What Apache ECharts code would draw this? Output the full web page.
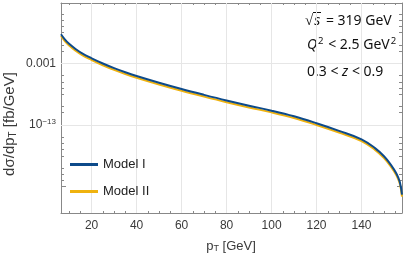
<!DOCTYPE html>
<html><head><meta charset="utf-8">
<script src="https://cdn.jsdelivr.net/npm/echarts@6/dist/echarts.min.js"></script>
<style>html,body{margin:0;padding:0;background:#fff}#c{width:407px;height:258px}</style>
</head><body><div id="c"></div>
<script>
// transverse momentum pT [GeV]
const pT = [6.4, 8, 10, 13, 16, 20, 25, 30, 35, 40, 50, 60, 70, 80, 90, 100, 110, 120, 130, 140, 146, 150, 153, 155.5, 157, 158];
// log10 of dσ/dpT [fb/GeV]
const modelI_log10 = [1.70, 0.92, 0.15, -0.72, -1.45, -2.19, -3.04, -3.79, -4.46, -5.06, -6.15, -7.17, -8.12, -9.03, -9.88, -10.68, -11.60, -12.72, -13.95, -15.32, -16.75, -18.07, -19.42, -20.87, -22.22, -24.30];
const modelII_log10 = [1.42, 0.64, -0.13, -1.00, -1.73, -2.47, -3.32, -4.07, -4.74, -5.34, -6.43, -7.45, -8.40, -9.31, -10.16, -10.96, -11.88, -13.00, -14.23, -15.60, -17.03, -18.35, -19.70, -21.15, -22.50, -24.60];
const seriesNames = ['Model I', 'Model II'];
// axes
const xMajorTicks = [20, 40, 60, 80, 100, 120, 140];
const xMinorTicks = [10, 15, 25, 30, 35, 45, 50, 55, 65, 70, 75, 85, 90, 95, 105, 110, 115, 125, 130, 135, 145, 150, 155];
const yLabelExp = [-3, -13];
const yLabelText = ['0.001', '10^−13'];
const yMajorTicks = [-3, -13, -23];
const yMinorTicks = [5, 4, 3, 2, 0, -1, -5, -6, -7, -8, -10, -11, -15, -16, -17, -18, -20, -21, -22];

const X_MIN = 6.4, X_MAX = 158.0, Y_MIN = -27.27, Y_MAX = 6.77;
const frameColor = '#888', labelColor = '#3a3a3a', gridColor = '#e6e6e6';
const F = 'Liberation Sans, Arial, sans-serif';
const NS = 'Noto Sans';

function toRich(t) {
  const i = t.indexOf('^');
  if (i < 0) return t;
  return '{b|' + t.slice(0, i) + '}{s|' + t.slice(i + 1) + '}';
}
function xAx(pos, ticks, len, label) {
  return { type: 'value', position: pos, min: X_MIN, max: X_MAX, gridIndex: 0,
    axisLine: { show: label, onZero: false, lineStyle: { color: frameColor, width: 1 } },
    axisTick: { show: true, inside: true, length: len, customValues: ticks, lineStyle: { color: frameColor } },
    axisLabel: { show: label && pos === 'bottom', customValues: xMajorTicks, color: labelColor, fontSize: 12, fontFamily: F, margin: 7 },
    splitLine: { show: false } };
}
function yAx(pos, ticks, len, label) {
  return { type: 'value', position: pos, min: Y_MIN, max: Y_MAX, gridIndex: 0,
    axisLine: { show: label, onZero: false, lineStyle: { color: frameColor, width: 1 } },
    axisTick: { show: true, inside: true, length: len, customValues: ticks, lineStyle: { color: frameColor } },
    axisLabel: { show: label && pos === 'left', customValues: yLabelExp, color: labelColor, fontSize: 12, fontFamily: F, margin: 5,
      formatter: v => toRich(yLabelText[yLabelExp.indexOf(v)] || ''),
      rich: { b: { fontSize: 12, fontFamily: F, color: labelColor }, s: { fontSize: 8, fontFamily: F, color: labelColor, verticalAlign: 'bottom', padding: [0, 0, 7, 0] } } },
    splitLine: { show: false } };
}
const gridLines = [];
xMajorTicks.forEach(v => gridLines.push({ xAxis: v }));
yLabelExp.forEach(v => gridLines.push({ yAxis: v }));

const txt = { fontSize: 14, fontFamily: NS, fill: '#111' };
const chart = echarts.init(document.getElementById('c'), null, { renderer: 'canvas' });
chart.setOption({
  animation: false,
  grid: { left: 61, right: 5, top: 3, bottom: 45, containLabel: false },
  xAxis: [xAx('bottom', xMajorTicks, 4, true), xAx('bottom', xMinorTicks, 2, false), xAx('top', xMajorTicks, 4, true), xAx('top', xMinorTicks, 2, false)],
  yAxis: [yAx('left', yMajorTicks, 5, true), yAx('left', yMinorTicks, 3, false), yAx('right', yMajorTicks, 5, true), yAx('right', yMinorTicks, 3, false)],
  legend: { data: seriesNames, orient: 'vertical', left: 70, top: 157, padding: 0, icon: 'rect', itemWidth: 28, itemHeight: 3, itemGap: 12,
    textStyle: { fontSize: 13, fontFamily: F, color: '#222', lineHeight: 15 } },
  series: [
    { name: seriesNames[0], type: 'line', xAxisIndex: 0, yAxisIndex: 0, z: 4, symbol: 'none', showSymbol: false, smooth: 0.4,
      lineStyle: { color: '#0d4a8a', width: 2 }, itemStyle: { color: '#0d4a8a' },
      data: pT.map((x, i) => [x, modelI_log10[i]]),
      markLine: { silent: true, symbol: 'none', z: 1, label: { show: false }, lineStyle: { color: gridColor, width: 1, type: 'solid' }, data: gridLines } },
    { name: seriesNames[1], type: 'line', xAxisIndex: 0, yAxisIndex: 0, z: 3, symbol: 'none', showSymbol: false, smooth: 0.4,
      lineStyle: { color: '#efb20f', width: 2 }, itemStyle: { color: '#efb20f' },
      data: pT.map((x, i) => [x, modelII_log10[i]]) }
  ],
  graphic: [
    { type: 'text', x: 10, y: 124, rotation: Math.PI / 2, style: {
      text: '{a|dσ/dp}{t|T}{a| [fb/GeV]}', align: 'center', verticalAlign: 'middle',
      rich: { a: { fontSize: 15, fontFamily: F, fill: labelColor }, t: { fontSize: 10, fontFamily: F, fill: labelColor, verticalAlign: 'top', padding: [7, 0, 0, 0] } } } },
    { type: 'text', x: 231, y: 246, style: {
      text: '{a|p}{t|T}{a| [GeV]}', align: 'center', verticalAlign: 'middle',
      rich: { a: { fontSize: 13, fontFamily: F, fill: labelColor }, t: { fontSize: 9, fontFamily: F, fill: labelColor, verticalAlign: 'top', padding: [6, 0, 0, 0] } } } },
    { type: 'text', x: 305, y: 21, style: { text: '{r|√}{i|s}{n| = 319 GeV}', verticalAlign: 'middle',
      rich: { r: Object.assign({}, txt, { fontSize: 15 }), i: Object.assign({}, txt, { fontStyle: 'italic', padding: [0, 2, 0, 1] }), n: txt } } },
    { type: 'line', shape: { x1: 313, y1: 12.5, x2: 321, y2: 12.5 }, style: { stroke: '#111', lineWidth: 1 } },
    { type: 'text', x: 307, y: 45, style: { text: '{i|Q}{s|2}{n| < 2.5 GeV}{s|2}', verticalAlign: 'middle',
      rich: { i: Object.assign({}, txt, { fontStyle: 'italic' }), n: txt, s: Object.assign({}, txt, { fontSize: 9.5, verticalAlign: 'bottom', padding: [0, 1, 7, 1] }) } } },
    { type: 'text', x: 307, y: 72, style: { text: '{n|0.3 < }{i|z}{n| < 0.9}', verticalAlign: 'middle',
      rich: { i: Object.assign({}, txt, { fontStyle: 'italic' }), n: txt } } }
  ]
});
</script></body></html>
